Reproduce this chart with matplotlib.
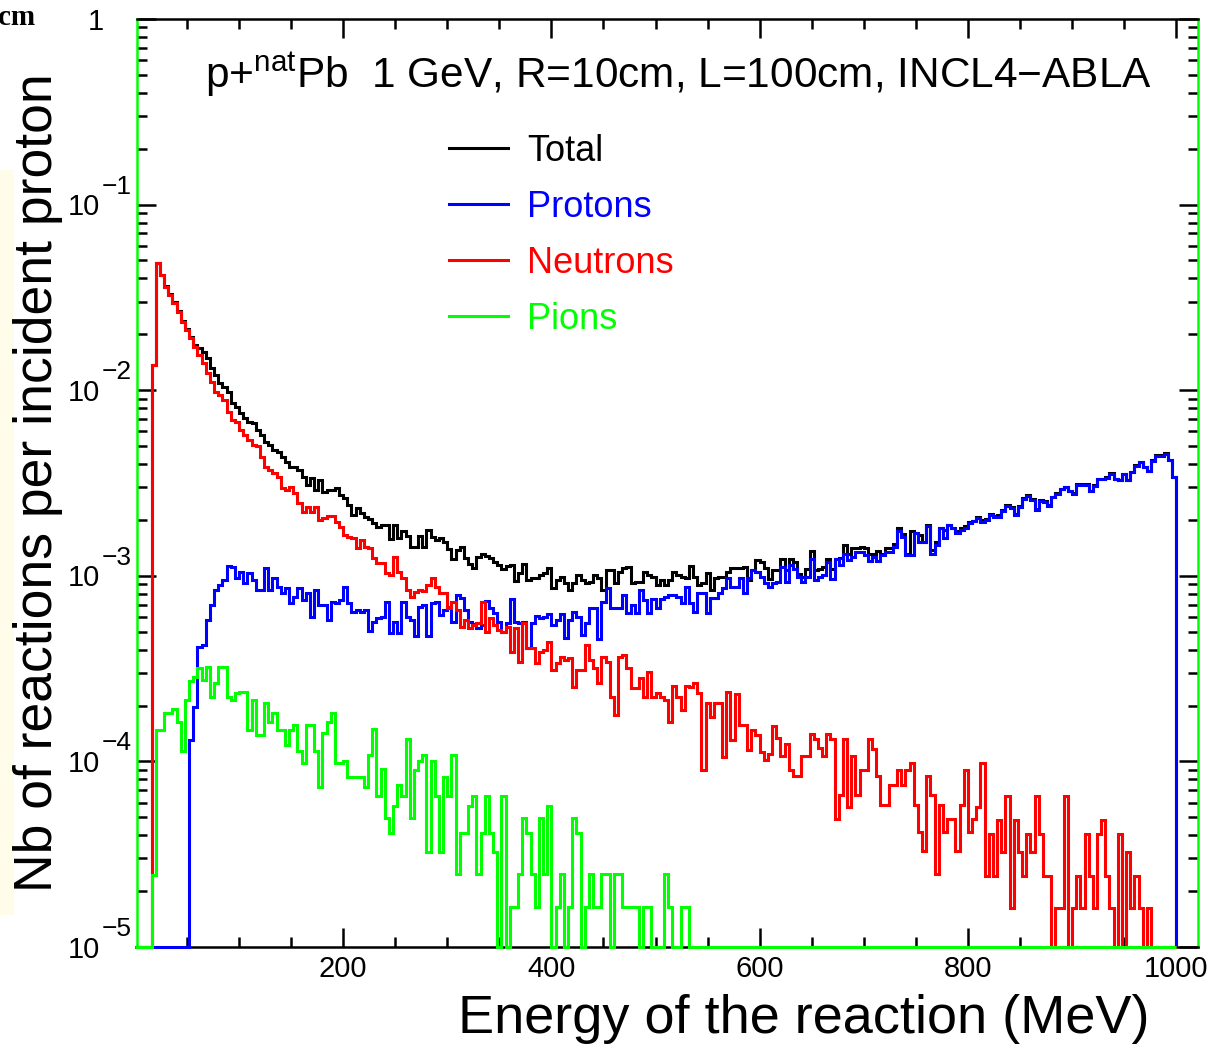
import numpy as np
import matplotlib

matplotlib.use("Agg")
import matplotlib.pyplot as plt
from matplotlib.lines import Line2D
from matplotlib.patches import Rectangle
from matplotlib.ticker import LogLocator, MultipleLocator, NullFormatter
from matplotlib.transforms import blended_transform_factory

plt.rcParams["font.family"] = ["Liberation Sans", "DejaVu Sans"]
plt.rcParams["mathtext.fontset"] = "custom"
plt.rcParams["mathtext.rm"] = "Liberation Sans"

FIG_W, FIG_H = 1227, 1044
Y_MIN, Y_MAX = 1e-5, 1.0
LINE_W = 2.2

# histogram layout: 4 MeV bins from 0 to 1000 MeV
energy_edges = np.arange(0, 1001, 4)

# log10(reactions per incident proton) per bin, None = empty bin
total_log = [
    None, None, None, None, -1.865, -1.314, -1.378, -1.440, -1.484, -1.524,
    -1.572, -1.625, -1.668, -1.712, -1.756, -1.770, -1.792, -1.828, -1.882, -1.918,
    -1.963, -1.981, -2.008, -2.071, -2.089, -2.125, -2.152, -2.170, -2.178, -2.214,
    -2.241, -2.277, -2.295, -2.322, -2.331, -2.358, -2.385, -2.412, -2.412, -2.430,
    -2.466, -2.511, -2.475, -2.538, -2.484, -2.547, -2.538, -2.538, -2.529, -2.565,
    -2.583, -2.619, -2.672, -2.637, -2.663, -2.685, -2.696, -2.714, -2.739, -2.726,
    -2.726, -2.803, -2.726, -2.798, -2.757, -2.786, -2.846, -2.846, -2.786, -2.846,
    -2.753, -2.789, -2.807, -2.798, -2.816, -2.857, -2.911, -2.861, -2.846, -2.906,
    -2.936, -2.956, -2.897, -2.883, -2.894, -2.906, -2.924, -2.942, -2.965, -2.947,
    -2.942, -3.026, -2.983, -2.936, -3.022, -3.014, -3.014, -2.995, -2.987, -2.960,
    -3.067, -3.020, -3.005, -3.040, -3.077, -3.040, -2.995, -3.023, -3.040, -3.032,
    -2.995, -3.014, -3.077, -2.969, -2.969, -3.040, -2.978, -2.960, -2.951, -3.040,
    -3.032, -3.032, -2.978, -2.995, -3.005, -3.050, -3.023, -3.050, -3.023, -2.978,
    -2.995, -3.005, -3.014, -2.947, -3.005, -3.050, -3.040, -2.987, -3.077, -3.014,
    -3.005, -3.005, -2.978, -2.960, -2.960, -2.960, -2.951, -3.023, -2.969, -2.915,
    -2.924, -2.960, -3.016, -2.970, -2.970, -2.907, -2.970, -2.907, -2.925, -2.989,
    -3.007, -2.961, -2.867, -2.970, -2.961, -2.952, -2.907, -2.961, -2.907, -2.903,
    -2.834, -2.880, -2.852, -2.849, -2.843, -2.852, -2.880, -2.880, -2.867, -2.880,
    -2.852, -2.849, -2.830, -2.743, -2.776, -2.880, -2.757, -2.770, -2.779, -2.819,
    -2.725, -2.861, -2.816, -2.740, -2.752, -2.725, -2.743, -2.761, -2.740, -2.734,
    -2.710, -2.707, -2.685, -2.702, -2.693, -2.667, -2.676, -2.675, -2.645, -2.621,
    -2.630, -2.667, -2.626, -2.579, -2.567, -2.585, -2.640, -2.594, -2.597, -2.621,
    -2.573, -2.554, -2.531, -2.519, -2.541, -2.556, -2.507, -2.507, -2.507, -2.541,
    -2.512, -2.477, -2.476, -2.468, -2.446, -2.477, -2.482, -2.449, -2.482, -2.440,
    -2.404, -2.386, -2.413, -2.435, -2.378, -2.350, -2.350, -2.341, -2.374, -2.465,
]

protons_log = [
    None, None, None, None, None, None, None, None, None, None,
    None, None, None, -3.885, -3.706, -3.386, -3.373, -3.238, -3.157, -3.077,
    -3.050, -3.023, -2.947, -2.951, -3.014, -2.978, -3.041, -2.987, -3.023, -3.077,
    -3.077, -2.960, -3.077, -3.014, -3.059, -3.095, -3.068, -3.148, -3.112, -3.068,
    -3.130, -3.095, -3.220, -3.077, -3.157, -3.157, -3.238, -3.139, -3.148, -3.130,
    -3.059, -3.148, -3.193, -3.184, -3.193, -3.184, -3.295, -3.247, -3.229, -3.220,
    -3.139, -3.306, -3.247, -3.306, -3.139, -3.220, -3.238, -3.324, -3.166, -3.157,
    -3.324, -3.148, -3.139, -3.211, -3.184, -3.166, -3.247, -3.104, -3.121, -3.184,
    -3.247, -3.260, -3.283, -3.265, -3.134, -3.175, -3.199, -3.247, -3.301, -3.256,
    -3.127, -3.247, -3.253, -3.247, -3.391, -3.256, -3.216, -3.229, -3.220, -3.206,
    -3.265, -3.240, -3.206, -3.337, -3.238, -3.193, -3.220, -3.319, -3.256, -3.175,
    -3.175, -3.343, -3.139, -3.068, -3.175, -3.175, -3.175, -3.104, -3.199, -3.157,
    -3.199, -3.077, -3.130, -3.199, -3.127, -3.175, -3.127, -3.112, -3.104, -3.104,
    -3.112, -3.148, -3.059, -3.148, -3.193, -3.094, -3.094, -3.202, -3.121, -3.121,
    -3.094, -3.068, -3.014, -3.059, -3.059, -3.014, -3.094, -3.014, -2.969, -2.978,
    -3.005, -3.040, -3.061, -3.038, -3.031, -2.952, -3.031, -2.943, -2.961, -3.007,
    -3.031, -3.007, -2.907, -3.025, -3.007, -2.998, -2.925, -3.016, -2.907, -2.943,
    -2.880, -2.916, -2.898, -2.871, -2.871, -2.889, -2.921, -2.898, -2.921, -2.889,
    -2.871, -2.871, -2.843, -2.761, -2.789, -2.889, -2.889, -2.770, -2.816, -2.819,
    -2.734, -2.880, -2.834, -2.743, -2.797, -2.725, -2.743, -2.770, -2.752, -2.743,
    -2.716, -2.707, -2.690, -2.708, -2.699, -2.672, -2.681, -2.681, -2.650, -2.626,
    -2.635, -2.672, -2.631, -2.584, -2.572, -2.590, -2.645, -2.599, -2.602, -2.626,
    -2.577, -2.559, -2.535, -2.523, -2.545, -2.559, -2.511, -2.511, -2.511, -2.545,
    -2.516, -2.480, -2.480, -2.471, -2.449, -2.480, -2.485, -2.452, -2.485, -2.443,
    -2.407, -2.389, -2.416, -2.438, -2.380, -2.352, -2.352, -2.343, -2.376, -2.467,
]

neutrons_log = [
    None, None, None, None, -1.866, -1.315, -1.380, -1.442, -1.487, -1.528,
    -1.577, -1.631, -1.676, -1.720, -1.766, -1.810, -1.855, -1.909, -1.954, -2.008,
    -2.026, -2.053, -2.116, -2.160, -2.170, -2.214, -2.241, -2.268, -2.295, -2.300,
    -2.358, -2.412, -2.430, -2.447, -2.465, -2.528, -2.537, -2.520, -2.555, -2.609,
    -2.654, -2.627, -2.654, -2.627, -2.699, -2.690, -2.677, -2.680, -2.708, -2.735,
    -2.780, -2.790, -2.798, -2.852, -2.807, -2.843, -2.852, -2.906, -2.933, -2.933,
    -2.987, -2.995, -2.897, -2.978, -3.014, -3.077, -3.112, -3.085, -3.077, -3.080,
    -3.050, -3.014, -3.058, -3.094, -3.094, -3.175, -3.139, -3.184, -3.274, -3.238,
    -3.283, -3.265, -3.256, -3.139, -3.301, -3.229, -3.265, -3.292, -3.301, -3.274,
    -3.409, -3.283, -3.463, -3.256, -3.391, -3.391, -3.472, -3.409, -3.400, -3.355,
    -3.508, -3.470, -3.436, -3.454, -3.445, -3.597, -3.508, -3.508, -3.373, -3.454,
    -3.499, -3.579, -3.436, -3.463, -3.651, -3.750, -3.436, -3.427, -3.499, -3.606,
    -3.606, -3.552, -3.651, -3.517, -3.651, -3.633, -3.651, -3.669, -3.786, -3.594,
    -3.651, -3.723, -3.594, -3.601, -3.576, -3.633, -4.046, -3.687, -3.759, -3.687,
    -3.687, -3.974, -3.624, -3.885, -3.637, -3.804, -3.804, -3.938, -3.831, -3.858,
    -3.947, -3.990, -3.960, -3.808, -3.872, -3.971, -3.908, -4.045, -4.081, -4.081,
    -3.971, -3.971, -3.855, -3.882, -3.926, -3.971, -3.855, -3.882, -4.308, -4.181,
    -3.882, -4.245, -3.971, -4.181, -4.045, -4.045, -3.882, -3.935, -4.081, -4.236,
    -4.236, -4.127, -4.127, -4.045, -4.127, -4.045, -4.008, -4.236, -4.381, -4.481,
    -4.081, -4.181, -4.609, -4.236, -4.381, -4.308, -4.308, -4.481, -4.236, -4.045,
    -4.381, -4.308, -4.243, -4.011, -4.617, -4.389, -4.617, -4.316, -4.489, -4.188,
    -4.791, -4.316, -4.489, -4.617, -4.389, -4.489, -4.188, -4.389, -4.617, -4.617,
    None, -4.791, -4.791, -4.188, None, -4.791, -4.617, -4.791, -4.389, -4.617,
    -4.791, -4.389, -4.316, -4.617, -4.791, None, -4.389, None, -4.489, -4.791,
    -4.617, -4.791, None, -4.791, None, None, None, None, None, None,
]

# pions: no entries above bin 132 (532 MeV)
pions_log = [
    None, None, None, None, -4.612, -3.830, -3.830, -3.740, -3.740, -3.720,
    -3.786, -3.942, -3.669, -3.565, -3.547, -3.499, -3.562, -3.490, -3.651, -3.576,
    -3.490, -3.490, -3.651, -3.669, -3.633, -3.624, -3.624, -3.830, -3.669, -3.857,
    -3.857, -3.687, -3.786, -3.740, -3.830, -3.830, -3.911, -3.830, -3.803, -3.942,
    -4.007, -3.803, -3.803, -3.942, -4.136, -3.848, -3.786, -3.740, -4.007, -4.007,
    -3.998, -4.082, -4.082, -4.082, -4.082, -4.136, -3.965, -3.827, -4.186, -4.042,
    -4.307, -4.388, -4.240, -4.127, -4.186, -3.881, -4.307, -4.046, -3.998, -3.965,
    -4.487, -3.998, -4.186, -4.487, -4.082, -4.186, -3.965, -4.607, -4.384, -4.384,
    -4.240, -4.186, -4.607, -4.384, -4.186, -4.384, -4.487, None, -4.186, None,
    -4.783, -4.783, -4.607, -4.307, -4.384, -4.607, -4.783, -4.307, -4.607, -4.240,
    None, -4.783, -4.607, None, -4.783, -4.307, -4.384, None, -4.783, -4.607,
    -4.783, -4.783, -4.607, -4.607, None, -4.607, -4.607, -4.783, -4.783, -4.783,
    -4.783, None, -4.783, -4.783, None, None, None, -4.607, -4.783, None,
    None, -4.783, -4.783,
]

series_labels = ["Total", "Protons", "Neutrons", "Pions"]
series_colors = ["black", "#0000ff", "#ff0000", "#00ff00"]
series_logs = [total_log, protons_log, neutrons_log, pions_log]

title_text = "p+$^{\\mathrm{nat}}$Pb  1 GeV, R=10cm, L=100cm, INCL4\u2212ABLA"
x_title = "Energy of the reaction (MeV)"
y_title = "Nb of reactions per incident proton"
y_tick_exponents = [-1, -2, -3, -4, -5]


def fx(px):
    return px / FIG_W


def fy(py):
    return 1.0 - py / FIG_H


def bin_contents(logs):
    values = np.zeros(len(energy_edges) - 1)
    for i, v in enumerate(logs):
        if v is not None:
            values[i] = 10.0 ** v
    # empty bins sit on the bottom of the frame, like ROOT draws them
    return np.maximum(values, Y_MIN)


fig = plt.figure(figsize=(FIG_W / 100, FIG_H / 100), dpi=100)
fig.patch.set_facecolor("white")
ax = fig.add_axes([fx(137), fy(947), (1198 - 137) / FIG_W, (947 - 19) / FIG_H])

for logs, color in zip(series_logs, series_colors):
    ax.stairs(bin_contents(logs), energy_edges, baseline=Y_MIN, color=color,
              linewidth=LINE_W, clip_on=False, zorder=3)

ax.set_yscale("log")
ax.set_ylim(Y_MIN, Y_MAX)
ax.set_xlim(2, 1021)

for side in ("left", "right"):
    ax.spines[side].set_color("#00ff00")
for side in ("top", "bottom"):
    ax.spines[side].set_color("black")
for spine in ax.spines.values():
    spine.set_linewidth(1.8)

ax.xaxis.set_major_locator(MultipleLocator(200))
ax.xaxis.set_minor_locator(MultipleLocator(50))
ax.yaxis.set_major_locator(LogLocator(base=10, numticks=12))
ax.yaxis.set_minor_locator(LogLocator(base=10, subs=np.arange(2, 10), numticks=12))
ax.yaxis.set_major_formatter(NullFormatter())
ax.yaxis.set_minor_formatter(NullFormatter())
ax.tick_params(which="both", direction="in", top=True, right=True, color="black", width=1.8)
ax.tick_params(which="major", length=13.5)
ax.tick_params(which="minor", length=7)
ax.tick_params(axis="x", labelsize=21, pad=6)

# ROOT style y labels: "1", then 10 with a large exponent
ytrans = blended_transform_factory(ax.transAxes, ax.transData)
ax.annotate("1", xy=(0, 1.0), xycoords=ytrans, xytext=(-33, -10.5), textcoords="offset pixels",
            ha="right", va="baseline", fontsize=21, annotation_clip=False)
for e in y_tick_exponents:
    ax.annotate("10", xy=(0, 10.0 ** e), xycoords=ytrans, xytext=(-37, -10.5),
                textcoords="offset pixels", ha="right", va="baseline", fontsize=21,
                annotation_clip=False)
    ax.annotate("\u2212%d" % -e, xy=(0, 10.0 ** e), xycoords=ytrans, xytext=(-35, 11),
                textcoords="offset pixels", ha="left", va="baseline", fontsize=19,
                annotation_clip=False)

fig.text(fx(205), fy(88), title_text, fontsize=30.5, ha="left", va="baseline")

legend_rows = [148, 204, 260, 316]
for label, color, row in zip(series_labels, series_colors, legend_rows):
    fig.add_artist(Line2D([fx(449), fx(508)], [fy(row), fy(row)], color=color,
                          linewidth=LINE_W, transform=fig.transFigure))
    fig.text(fx(527), fy(row + 13), label, color=color, fontsize=26, ha="left", va="baseline")

fig.text(fx(1150), fy(1033), x_title, fontsize=39, ha="right", va="baseline")
fig.text(fx(38), fy(483), y_title, fontsize=38.5, rotation=90, ha="center", va="center")

# bits of the surrounding page that show in the screenshot
fig.add_artist(Rectangle((0, fy(915)), fx(14), (915 - 170) / FIG_H, transform=fig.transFigure,
                         facecolor="#fffdea", edgecolor="none", zorder=0))
fig.text(fx(35), fy(25), "cm", fontsize=21, fontweight="bold", family="Liberation Serif",
         ha="right", va="baseline")

fig.savefig("out.png", dpi=100, facecolor="white")
plt.close(fig)
